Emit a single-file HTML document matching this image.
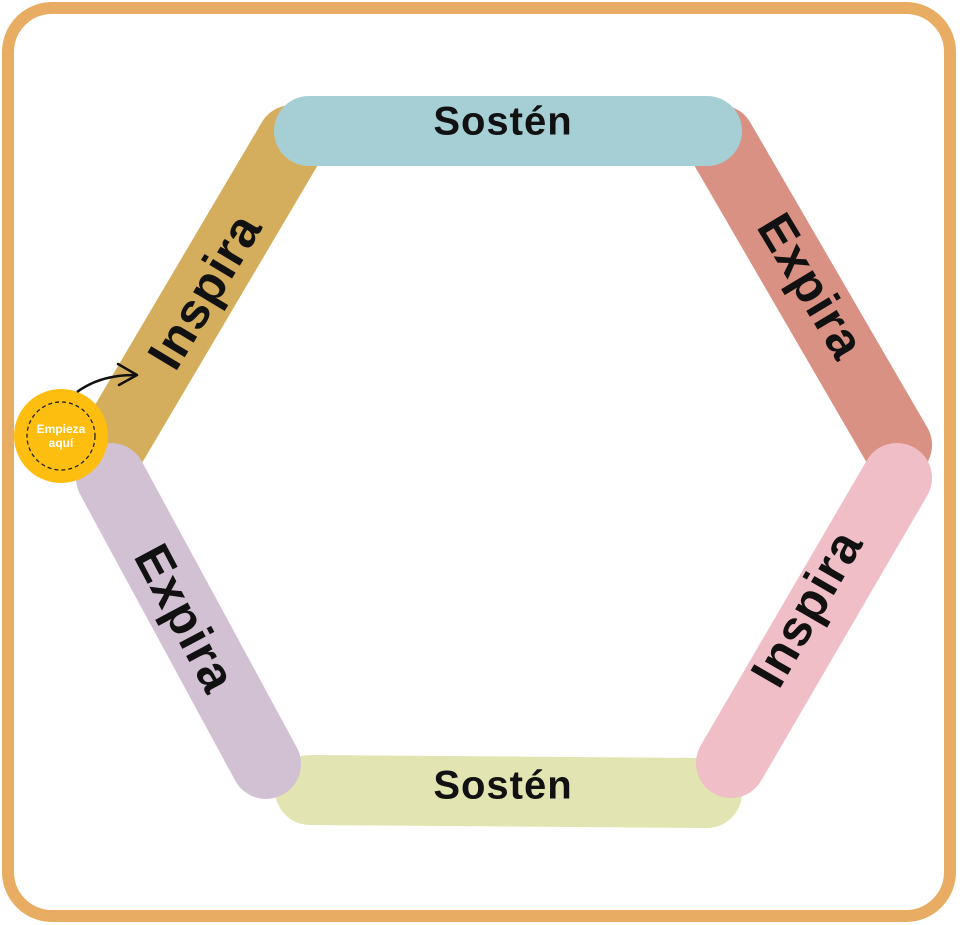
<!DOCTYPE html>
<html><head><meta charset="utf-8"><style>
html,body{margin:0;padding:0;background:#fff;}
svg{display:block;}
text{font-family:"Liberation Sans","DejaVu Sans",sans-serif;font-weight:bold;fill:#111;}
</style></head><body>
<svg width="960" height="925" viewBox="0 0 960 925" xmlns="http://www.w3.org/2000/svg">
<rect x="8" y="8" width="942" height="908" rx="44" ry="44" fill="#fff" stroke="#E8AC62" stroke-width="12"/>
<g stroke-linecap="round" stroke-width="70" fill="none">
<line x1="292" y1="140" x2="112" y2="445" stroke="#D4AE5C"/>
<line x1="720" y1="140" x2="897" y2="445" stroke="#D99183"/>
<line x1="309" y1="131" x2="707" y2="131" stroke="#A6CFD5"/>
<line x1="310" y1="790" x2="707" y2="793" stroke="#E2E5B2"/>
<line x1="111" y1="478" x2="266" y2="764" stroke="#D2C1D2"/>
<line x1="897" y1="478" x2="731" y2="763" stroke="#F0BEC6"/>
</g>
<text x="503" y="124" font-size="40" text-anchor="middle" dominant-baseline="middle" letter-spacing="1">Sostén</text>
<text x="503" y="788" font-size="40" text-anchor="middle" dominant-baseline="middle" letter-spacing="1">Sostén</text>
<text transform="translate(208,293) rotate(-59)" font-size="50" text-anchor="middle" dominant-baseline="middle" letter-spacing="1">Inspira</text>
<text transform="translate(808,288) rotate(59)" font-size="50" text-anchor="middle" dominant-baseline="middle" letter-spacing="1">Expira</text>
<text transform="translate(810,610) rotate(-60)" font-size="50" text-anchor="middle" dominant-baseline="middle" letter-spacing="1">Inspira</text>
<text transform="translate(182,620) rotate(62)" font-size="50" text-anchor="middle" dominant-baseline="middle" letter-spacing="1">Expira</text>
<circle cx="61" cy="436" r="47" fill="#FDBE0F"/>
<circle cx="61" cy="436" r="34" fill="none" stroke="#222" stroke-width="1.3" stroke-dasharray="4,3"/>
<text x="61" y="433" font-size="12" text-anchor="middle" style="fill:#fff">Empieza</text>
<text x="61" y="447" font-size="12" text-anchor="middle" style="fill:#fff">aquí</text>
<path d="M77,392 Q100,375 135,375" fill="none" stroke="#111" stroke-width="2.5"/>
<path d="M118,364 L137,375 L119,385" fill="none" stroke="#111" stroke-width="2.5" stroke-linecap="round" stroke-linejoin="round"/>
</svg>
</body></html>
